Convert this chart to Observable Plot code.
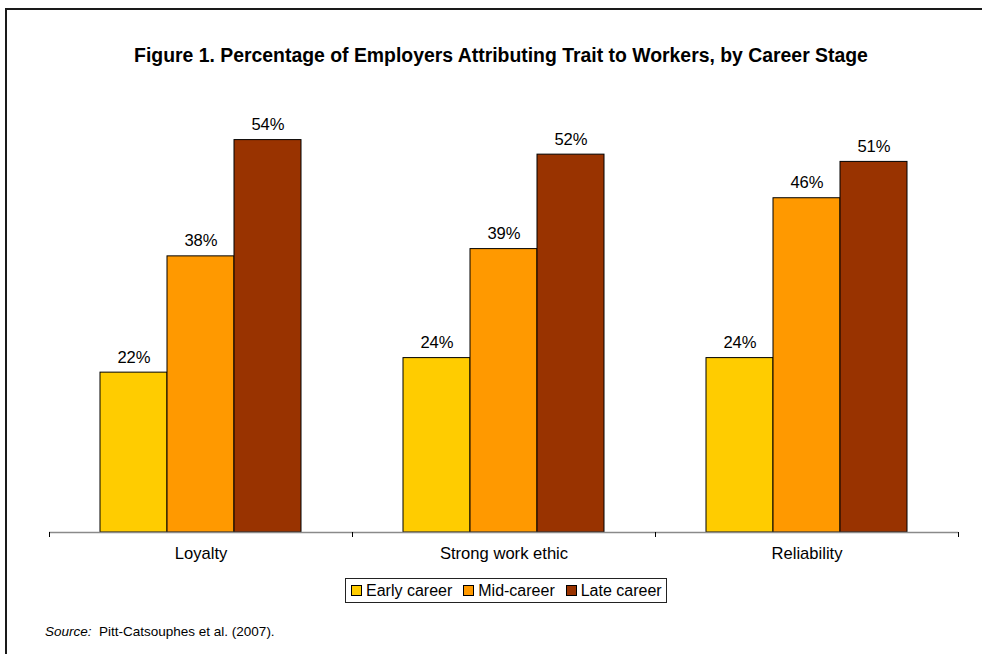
<!DOCTYPE html>
<html>
<head>
<meta charset="utf-8">
<script src="https://cdn.jsdelivr.net/npm/d3@7"></script>
<script src="https://cdn.jsdelivr.net/npm/@observablehq/plot@0.6"></script>
<style>
  html, body { margin: 0; padding: 0; background: #fff; }
  body { width: 982px; height: 654px; position: relative; overflow: hidden; font-family: "Liberation Sans", Arial, sans-serif; color: #000; }
  #frame { position: absolute; left: 5px; top: 8px; width: 1100px; height: 800px; border-left: 2px solid #1a1a1a; border-top: 2px solid #1a1a1a; }
  #title { position: absolute; left: 0; width: 1002px; top: 44px; text-align: center; font-weight: bold; font-size: 19.4px; white-space: nowrap; }
  #chart { position: absolute; left: 0; top: 0; }
  #legend { position: absolute; left: 345px; top: 578px; width: 322px; height: 25px; border: 1px solid #222; display: flex; align-items: center; font-size: 16px; box-sizing: border-box; padding-left: 5px; white-space: nowrap; }
  #legend .item { display: flex; align-items: center; margin-right: 11px; white-space: nowrap; }
  #legend .sw { width: 9px; height: 9px; border: 1px solid #000; margin-right: 4px; flex: none; }
  #source { position: absolute; left: 45px; top: 624px; font-size: 13.5px; white-space: nowrap; }
</style>
</head>
<body>
<div id="frame"></div>
<div id="title">Figure 1. Percentage of Employers Attributing Trait to Workers, by Career Stage</div>
<div id="chart"></div>
<div id="legend"></div>
<div id="source"><i>Source:</i>&nbsp; Pitt-Catsouphes et al. (2007).</div>
<script>
const categories = ["Loyalty", "Strong work ethic", "Reliability"];
const stages = ["Early career", "Mid-career", "Late career"];
const earlyCareer = [22, 24, 24];
const midCareer = [38, 39, 46];
const lateCareer = [54, 52, 51];
const stageColors = ["#FFCC00", "#FF9900", "#993300"];

const series = [earlyCareer, midCareer, lateCareer];
const data = [];
categories.forEach((c, i) => {
  stages.forEach((s, j) => data.push({category: c, stage: s, value: series[j][i]}));
});

const font = '"Liberation Sans", Arial, sans-serif';
const chart = Plot.plot({
  width: 982,
  height: 575,
  marginLeft: 48,
  marginRight: 23,
  marginTop: 96,
  marginBottom: 43,
  style: {fontFamily: font, fontSize: "16.6px", color: "#000", background: "transparent", overflow: "visible"},
  fx: {domain: categories, padding: 0, label: null},
  x: {domain: stages, paddingInner: 0, paddingOuter: 0.75, axis: null},
  y: {domain: [0, 60], axis: null},
  color: {domain: stages, range: stageColors},
  marks: [
    Plot.barY(data, {fx: "category", x: "stage", y: "value", fill: "stage", stroke: "#000", strokeWidth: 1}),
    Plot.ruleY([0], {stroke: "#8a8a8a", strokeWidth: 1.5}),
    Plot.text(data, {fx: "category", x: "stage", y: "value", text: d => d.value + "%", lineAnchor: "bottom", dy: -10, fontSize: 16.6, fill: "#000"}),
    Plot.axisFx({anchor: "bottom", tickSize: 0, tickPadding: 15, fontSize: 16.6, label: null})
  ]
});
document.getElementById("chart").appendChild(chart);

// group boundary tick marks from the fx scale
const fx = chart.scale("fx");
const yScale = chart.scale("y");
const y0 = yScale.apply(0);
const bounds = [];
categories.forEach((c, i) => {
  const left = fx.apply(c);
  if (i === 0) bounds.push(left);
  bounds.push(left + fx.bandwidth);
});
d3.select(chart).append("g")
  .selectAll("line").data(bounds).join("line")
  .attr("x1", d => Math.round(d) + 0.5).attr("x2", d => Math.round(d) + 0.5)
  .attr("y1", y0).attr("y2", y0 + 5)
  .attr("stroke", "#000").attr("stroke-width", 1);

const legend = d3.select("#legend");
stages.forEach((s, j) => {
  const item = legend.append("div").attr("class", "item");
  item.append("div").attr("class", "sw").style("background", stageColors[j]);
  item.append("span").text(s);
});
</script>
</body>
</html>
